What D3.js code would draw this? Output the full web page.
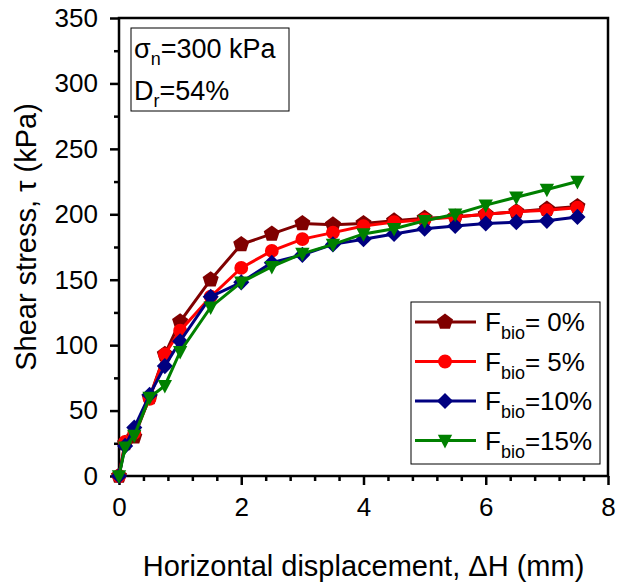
<!DOCTYPE html>
<html>
<head>
<meta charset="utf-8">
<script src="https://cdn.jsdelivr.net/npm/d3@7"></script>
<style>
  body { margin: 0; background: #fff; }
  text { font-family: Arial, "Liberation Sans", sans-serif; fill: #000; }
</style>
</head>
<body>
<script>
// horizontal displacement (mm)
const disp = [0, 0.1, 0.25, 0.5, 0.75, 1, 1.5, 2, 2.5, 3, 3.5, 4, 4.5, 5, 5.5, 6, 6.5, 7, 7.5];
// shear stress (kPa) per bio content
const tau0 = [0, 25, 30, 60, 93, 118, 150, 177, 185, 193, 192, 193, 195, 197, 198, 200, 202, 204, 206];
const tau5 = [0, 26, 33, 59, 93, 111, 137, 159, 172, 181, 186, 191, 194, 196, 198, 200, 202, 203, 205];
const tau10 = [0, 23, 37, 62, 84, 103, 137, 148, 163, 169, 177, 181, 185, 189, 191, 193, 194, 195, 198];
const tau15 = [0, 22, 31, 60, 69, 95, 129, 148, 160, 170, 177, 185, 189, 195, 200, 207, 213, 219, 225];
const seriesNames = ["0%", "5%", "10%", "15%"];
const seriesColors = ["#800000", "#ff0000", "#000080", "#008000"];
const xTicks = [0, 2, 4, 6, 8];
const yTicks = [0, 50, 100, 150, 200, 250, 300, 350];

const W = 618, H = 585;
const margin = {top: 18, right: 10, bottom: 109, left: 119};
const pw = W - margin.left - margin.right;
const ph = H - margin.top - margin.bottom;
const font = 'Arial, "Liberation Sans", sans-serif';

const svg = d3.select('body').append('svg')
    .attr('width', W)
    .attr('height', H);

const g = svg.append('g')
    .attr('transform', 'translate(' + margin.left + ',' + margin.top + ')');

const x = d3.scaleLinear().domain([0, 8]).range([0, pw]);
const y = d3.scaleLinear().domain([0, 350]).range([ph, 0]);

// minor ticks
const xMinor = d3.range(0, 8.01, 0.4).filter(v => !xTicks.some(t => Math.abs(t - v) < 1e-6));
const yMinor = d3.range(25, 350, 50);

g.append('g')
    .attr('transform', 'translate(0,' + ph + ')')
    .call(d3.axisBottom(x).tickValues(xMinor).tickSize(5).tickFormat(''))
    .call(a => a.select('.domain').remove())
    .selectAll('line').attr('stroke-width', 2.5);

g.append('g')
    .call(d3.axisLeft(y).tickValues(yMinor).tickSize(5).tickFormat(''))
    .call(a => a.select('.domain').remove())
    .selectAll('line').attr('stroke-width', 2.5);

const xAxis = g.append('g')
    .attr('transform', 'translate(0,' + ph + ')')
    .call(d3.axisBottom(x).tickValues(xTicks).tickSize(9).tickPadding(13).tickSizeOuter(0));
xAxis.select('.domain').remove();
xAxis.selectAll('line').attr('stroke-width', 2.5);
xAxis.selectAll('text').attr('font-size', 26).style('font-family', font);

const yAxis = g.append('g')
    .call(d3.axisLeft(y).tickValues(yTicks).tickSize(9).tickPadding(12).tickSizeOuter(0));
yAxis.select('.domain').remove();
yAxis.selectAll('line').attr('stroke-width', 2.5);
yAxis.selectAll('text').attr('font-size', 26).style('font-family', font);

// frame
g.append('rect')
    .attr('width', pw).attr('height', ph)
    .attr('fill', 'none').attr('stroke', '#000').attr('stroke-width', 2.5);

// series
const series = [tau0, tau5, tau10, tau15].map((vals, i) => ({
    name: seriesNames[i],
    color: seriesColors[i],
    values: vals.map((v, j) => ({x: disp[j], y: v}))
}));

const pentagon = {
    draw(ctx, size) {
        const r = Math.sqrt(size / 2.378);
        for (let k = 0; k < 5; k++) {
            const a = -Math.PI / 2 + k * 2 * Math.PI / 5;
            const px = r * Math.cos(a), py = r * Math.sin(a);
            if (k === 0) ctx.moveTo(px, py); else ctx.lineTo(px, py);
        }
        ctx.closePath();
    }
};
const diamond = {
    draw(ctx, size) {
        const r = Math.sqrt(size / 2);
        ctx.moveTo(0, -r);
        ctx.lineTo(r, 0);
        ctx.lineTo(0, r);
        ctx.lineTo(-r, 0);
        ctx.closePath();
    }
};
const triDown = {
    draw(ctx, size) {
        const s = Math.sqrt(size) * 1.1;
        ctx.moveTo(-s / 2, -s * 0.4);
        ctx.lineTo(s / 2, -s * 0.4);
        ctx.lineTo(0, s * 0.55);
        ctx.closePath();
    }
};
const symbols = [
    d3.symbol().type(pentagon).size(170),
    d3.symbol().type(d3.symbolCircle).size(150),
    d3.symbol().type(diamond).size(130),
    d3.symbol().type(triDown).size(170)
];

const line = d3.line().x(d => x(d.x)).y(d => y(d.y));

series.forEach((s, i) => {
    const sg = g.append('g');
    sg.append('path')
        .datum(s.values)
        .attr('fill', 'none')
        .attr('stroke', s.color)
        .attr('stroke-width', 3)
        .attr('d', line);
    sg.selectAll('path.pt')
        .data(s.values)
        .enter()
        .append('path')
        .attr('class', 'pt')
        .attr('transform', d => 'translate(' + x(d.x) + ',' + y(d.y) + ')')
        .attr('d', symbols[i])
        .attr('fill', s.color);
});

// annotation box
const ann = g.append('g').attr('transform', 'translate(12,10)');
ann.append('rect')
    .attr('width', 158).attr('height', 83)
    .attr('fill', '#fff').attr('stroke', '#000').attr('stroke-width', 1);
const t1 = ann.append('text').attr('x', 3).attr('y', 30).attr('font-size', 27);
t1.append('tspan').text('σ');
t1.append('tspan').attr('font-size', 18).attr('dy', 7).text('n');
t1.append('tspan').attr('dy', -7).text('=300 kPa');
const t2 = ann.append('text').attr('x', 3).attr('y', 72).attr('font-size', 27);
t2.append('tspan').text('D');
t2.append('tspan').attr('font-size', 18).attr('dy', 7).text('r');
t2.append('tspan').attr('dy', -7).text('=54%');

// legend
const leg = g.append('g').attr('transform', 'translate(' + (411 - margin.left) + ',' + (302 - margin.top) + ')');
leg.append('rect')
    .attr('width', 189).attr('height', 162)
    .attr('fill', '#fff').attr('stroke', '#000').attr('stroke-width', 1);
series.forEach((s, i) => {
    const ly = 20 + i * 39.5;
    leg.append('line')
        .attr('x1', 4).attr('x2', 65).attr('y1', ly).attr('y2', ly)
        .attr('stroke', s.color).attr('stroke-width', 3);
    leg.append('path')
        .attr('transform', 'translate(34,' + ly + ')')
        .attr('d', symbols[i])
        .attr('fill', s.color);
    const lt = leg.append('text').attr('x', 74).attr('y', ly + 9).attr('font-size', 26);
    lt.append('tspan').text('F');
    lt.append('tspan').attr('font-size', 18).attr('dy', 8).text('bio');
    lt.append('tspan').attr('dy', -8).text('=' + (s.name.length < 3 ? '\u00a0' : '') + s.name);
});

// axis titles
svg.append('text')
    .attr('x', margin.left + pw / 2)
    .attr('y', 576)
    .attr('text-anchor', 'middle')
    .attr('font-size', 29)
    .text('Horizontal displacement, ΔH (mm)');

svg.append('text')
    .attr('transform', 'translate(36,' + 237 + ') rotate(-90)')
    .attr('text-anchor', 'middle')
    .attr('font-size', 29)
    .text('Shear stress, τ (kPa)');
</script>
</body>
</html>
